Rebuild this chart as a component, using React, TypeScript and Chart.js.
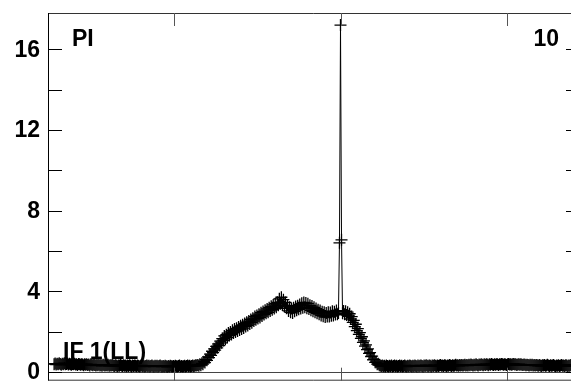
import React, { useEffect, useRef } from "react";
import { Chart, registerables } from "chart.js";

Chart.register(...registerables);

// Channel-by-channel amplitude
const signal: number[] = [
  0.38, 0.41, 0.36, 0.40, 0.37, 0.42, 0.39, 0.35, 0.40, 0.38, 0.43, 0.37, 0.39, 0.41, 0.36, 0.40, 0.38, 0.35, 0.39, 0.37,
  0.40, 0.36, 0.38, 0.34, 0.39, 0.37, 0.35, 0.38, 0.36, 0.33, 0.37, 0.35, 0.38, 0.34, 0.36, 0.32, 0.37, 0.35, 0.33, 0.36,
  0.34, 0.31, 0.35, 0.33, 0.36, 0.32, 0.34, 0.30, 0.35, 0.33, 0.31, 0.34, 0.32, 0.35, 0.30, 0.33, 0.31, 0.34, 0.32, 0.29,
  0.33, 0.31, 0.28, 0.32, 0.30, 0.34, 0.31, 0.29, 0.33, 0.30, 0.32, 0.28, 0.31, 0.29, 0.33, 0.30, 0.27, 0.31, 0.29, 0.32,
  0.30, 0.28, 0.31, 0.29, 0.27, 0.30, 0.32, 0.28, 0.30, 0.26, 0.29, 0.31, 0.28, 0.30, 0.27, 0.29, 0.31, 0.28, 0.26, 0.30,
  0.28, 0.30, 0.27, 0.29, 0.31, 0.28, 0.26, 0.29, 0.27, 0.30, 0.28, 0.25, 0.29, 0.27, 0.30, 0.28, 0.26, 0.29, 0.27, 0.30,
  0.28, 0.26, 0.29, 0.31, 0.27, 0.29, 0.26, 0.28, 0.30, 0.27, 0.29, 0.31, 0.28, 0.30, 0.27, 0.29, 0.32, 0.28, 0.30, 0.33,
  0.31, 0.34, 0.30, 0.37, 0.33, 0.42, 0.38, 0.50, 0.46, 0.61, 0.57, 0.74, 0.70, 0.88, 0.82, 1.02, 0.95, 1.14, 1.08, 1.26,
  1.19, 1.38, 1.30, 1.52, 1.44, 1.65, 1.55, 1.78, 1.62, 1.84, 1.70, 1.92, 1.80, 1.98, 1.85, 2.06, 1.93, 2.12, 1.98, 2.16,
  2.02, 2.22, 2.08, 2.28, 2.12, 2.33, 2.17, 2.40, 2.25, 2.46, 2.30, 2.52, 2.37, 2.60, 2.44, 2.66, 2.52, 2.74, 2.58, 2.80,
  2.64, 2.86, 2.70, 2.93, 2.77, 2.99, 2.84, 3.06, 2.90, 3.12, 2.95, 3.18, 3.02, 3.25, 3.08, 3.32, 3.14, 3.38, 3.20, 3.45,
  3.30, 3.62, 3.38, 3.70, 3.32, 3.58, 3.24, 3.44, 3.15, 3.30, 3.02, 3.20, 2.95, 3.14, 2.92, 3.18, 3.00, 3.24, 3.06, 3.28,
  3.10, 3.34, 3.14, 3.40, 3.18, 3.44, 3.20, 3.42, 3.16, 3.38, 3.12, 3.30, 3.05, 3.26, 3.00, 3.20, 2.95, 3.14, 2.90, 3.08,
  2.86, 3.04, 2.80, 2.98, 2.76, 2.95, 2.72, 2.92, 2.75, 2.96, 2.74, 2.94, 2.78, 3.00, 2.80, 2.98, 2.84, 3.04, 2.86, 2.92,
  6.40, 17.20, 6.55, 2.90, 3.02, 2.86, 3.00, 2.82, 2.96, 2.78, 2.88, 2.62, 2.74, 2.45, 2.55, 2.24, 2.36, 2.04, 2.14, 1.86,
  1.94, 1.66, 1.74, 1.46, 1.54, 1.28, 1.34, 1.10, 1.14, 0.92, 0.95, 0.76, 0.78, 0.60, 0.62, 0.47, 0.48, 0.38, 0.40, 0.33,
  0.31, 0.29, 0.32, 0.28, 0.30, 0.27, 0.31, 0.29, 0.26, 0.30, 0.28, 0.31, 0.27, 0.29, 0.32, 0.28, 0.30, 0.26, 0.29, 0.31,
  0.28, 0.30, 0.27, 0.29, 0.32, 0.28, 0.26, 0.30, 0.28, 0.31, 0.29, 0.27, 0.30, 0.28, 0.32, 0.29, 0.27, 0.31, 0.28, 0.30,
  0.32, 0.29, 0.27, 0.31, 0.29, 0.33, 0.30, 0.28, 0.32, 0.30, 0.27, 0.31, 0.29, 0.33, 0.30, 0.28, 0.32, 0.29, 0.31, 0.34,
  0.30, 0.32, 0.29, 0.33, 0.31, 0.28, 0.32, 0.30, 0.34, 0.31, 0.29, 0.33, 0.30, 0.32, 0.35, 0.31, 0.33, 0.30, 0.34, 0.32,
  0.34, 0.31, 0.33, 0.35, 0.32, 0.34, 0.31, 0.35, 0.33, 0.36, 0.34, 0.32, 0.35, 0.33, 0.37, 0.34, 0.32, 0.36, 0.34, 0.37,
  0.35, 0.33, 0.37, 0.34, 0.38, 0.36, 0.33, 0.37, 0.35, 0.39, 0.36, 0.34, 0.38, 0.35, 0.38, 0.37, 0.34, 0.38, 0.36, 0.39,
  0.37, 0.35, 0.38, 0.36, 0.34, 0.37, 0.39, 0.36, 0.38, 0.35, 0.37, 0.39, 0.36, 0.37, 0.34, 0.36, 0.38, 0.35, 0.37, 0.35,
  0.34, 0.36, 0.35, 0.33, 0.35, 0.34, 0.32, 0.35, 0.33, 0.35, 0.32, 0.34, 0.31, 0.34, 0.33, 0.30, 0.34, 0.32, 0.29, 0.33,
  0.31, 0.34, 0.30, 0.32, 0.35, 0.31, 0.29, 0.33, 0.30, 0.32, 0.34, 0.30, 0.28, 0.32, 0.30, 0.33, 0.29, 0.31, 0.34, 0.30,
  0.32, 0.29, 0.33, 0.31, 0.28, 0.32, 0.30, 0.34, 0.31, 0.29, 0.33, 0.31,
];

const yTickValues: number[] = [0, 2, 4, 6, 8, 10, 12, 14, 16];
const yLabelValues: number[] = [0, 4, 8, 12, 16];
const xTickValues: number[] = [118, 281, 444];
const xRange: [number, number] = [-5, 515];
const yRange: [number, number] = [-0.44, 17.8];
const labelTopLeft = "PI";
const labelTopRight = "10";
const labelBottomLeft = "IF 1(LL)";

const FONT_FAMILY = "'Liberation Sans', Arial, sans-serif";
const FONT = `bold 23px ${FONT_FAMILY}`;

const framePlugin = {
  id: "framePlugin",
  beforeDatasetsDraw(chart: any) {
    const { ctx, chartArea } = chart;
    const { left, right, top, bottom } = chartArea;
    const ys = chart.scales.y;
    ctx.save();
    const y0 = Math.round(ys.getPixelForValue(0)) + 0.5;
    ctx.strokeStyle = "#444";
    ctx.lineWidth = 1;
    ctx.beginPath();
    ctx.moveTo(left, y0);
    ctx.lineTo(right, y0);
    ctx.stroke();
    ctx.fillStyle = "#000";
    ctx.font = FONT;
    ctx.textBaseline = "alphabetic";
    ctx.textAlign = "left";
    ctx.fillText(labelTopLeft, left + 23, top + 33);
    ctx.textAlign = "right";
    ctx.fillText(labelTopRight, right - 20, top + 33);
    ctx.textAlign = "left";
    ctx.fillText(labelBottomLeft, left + 14, bottom - 22);
    ctx.restore();
  },
  afterDatasetsDraw(chart: any) {
    const { ctx, chartArea } = chart;
    const { left, right, top, bottom } = chartArea;
    const xs = chart.scales.x;
    const ys = chart.scales.y;
    const tick = 13;
    ctx.save();
    ctx.lineWidth = 1;
    ctx.strokeStyle = "#333";
    ctx.beginPath();
    ctx.moveTo(left - 0.5, top + 0.5);
    ctx.lineTo(right, top + 0.5);
    ctx.moveTo(left - 0.5, bottom - 0.5);
    ctx.lineTo(right, bottom - 0.5);
    ctx.moveTo(right - 0.5, top);
    ctx.lineTo(right - 0.5, bottom);
    ctx.stroke();
    ctx.strokeStyle = "#000";
    ctx.beginPath();
    ctx.moveTo(left - 0.5, top);
    ctx.lineTo(left - 0.5, bottom);
    ctx.stroke();
    ctx.strokeStyle = "#000";
    ctx.beginPath();
    for (const v of yTickValues) {
      const py = Math.round(ys.getPixelForValue(v)) + 0.5;
      ctx.moveTo(left, py);
      ctx.lineTo(left + tick, py);
      ctx.moveTo(right, py);
      ctx.lineTo(right - tick, py);
    }
    ctx.stroke();
    ctx.strokeStyle = "#555";
    ctx.beginPath();
    for (const v of xTickValues) {
      const px = Math.round(xs.getPixelForValue(v)) + 0.5;
      ctx.moveTo(px, top);
      ctx.lineTo(px, top + tick);
      ctx.moveTo(px, bottom);
      ctx.lineTo(px, bottom - tick);
    }
    ctx.stroke();
    ctx.restore();
  },
};

export default function App() {
  const canvasRef = useRef<HTMLCanvasElement | null>(null);

  useEffect(() => {
    const canvas = canvasRef.current;
    if (!canvas) return;
    const chart = new Chart(canvas, {
      type: "line",
      data: {
        datasets: [
          {
            data: signal.map((v, i) => ({ x: i, y: v })),
            borderColor: "#000",
            borderWidth: 1,
            pointStyle: "cross",
            pointRadius: 6,
            pointBorderWidth: 1.3,
            pointBorderColor: "#000",
            pointBackgroundColor: "#000",
            tension: 0,
            fill: false,
          },
        ],
      },
      options: {
        animation: false,
        responsive: false,
        devicePixelRatio: 1,
        layout: { padding: { left: 0, top: 13, right: 21, bottom: 5 } },
        plugins: {
          legend: { display: false },
          tooltip: { enabled: false },
        },
        events: [],
        scales: {
          x: {
            type: "linear",
            display: false,
            min: xRange[0],
            max: xRange[1],
          },
          y: {
            type: "linear",
            min: yRange[0],
            max: yRange[1],
            grid: { display: false, drawTicks: false },
            border: { display: false },
            afterBuildTicks: (scale: any) => {
              scale.ticks = yTickValues.map((v) => ({ value: v }));
            },
            afterFit: (scale: any) => {
              scale.width = 49;
              scale.paddingTop = 0;
              scale.paddingBottom = 0;
            },
            ticks: {
              autoSkip: false,
              padding: 9,
              color: "#000",
              labelOffset: 1,
              font: { family: FONT_FAMILY, size: 23, weight: "bold" },
              callback: (v: any) => (yLabelValues.includes(Number(v)) ? String(v) : ""),
            },
          },
        },
      },
      plugins: [framePlugin],
    });
    return () => chart.destroy();
  }, []);

  return (
    <div
      style={{
        position: "fixed",
        left: 0,
        top: 0,
        width: 571,
        height: 388,
        overflow: "hidden",
        background: "#fff",
      }}
    >
      <canvas ref={canvasRef} width={600} height={388} style={{ width: 600, height: 388, display: "block" }} />
    </div>
  );
}
